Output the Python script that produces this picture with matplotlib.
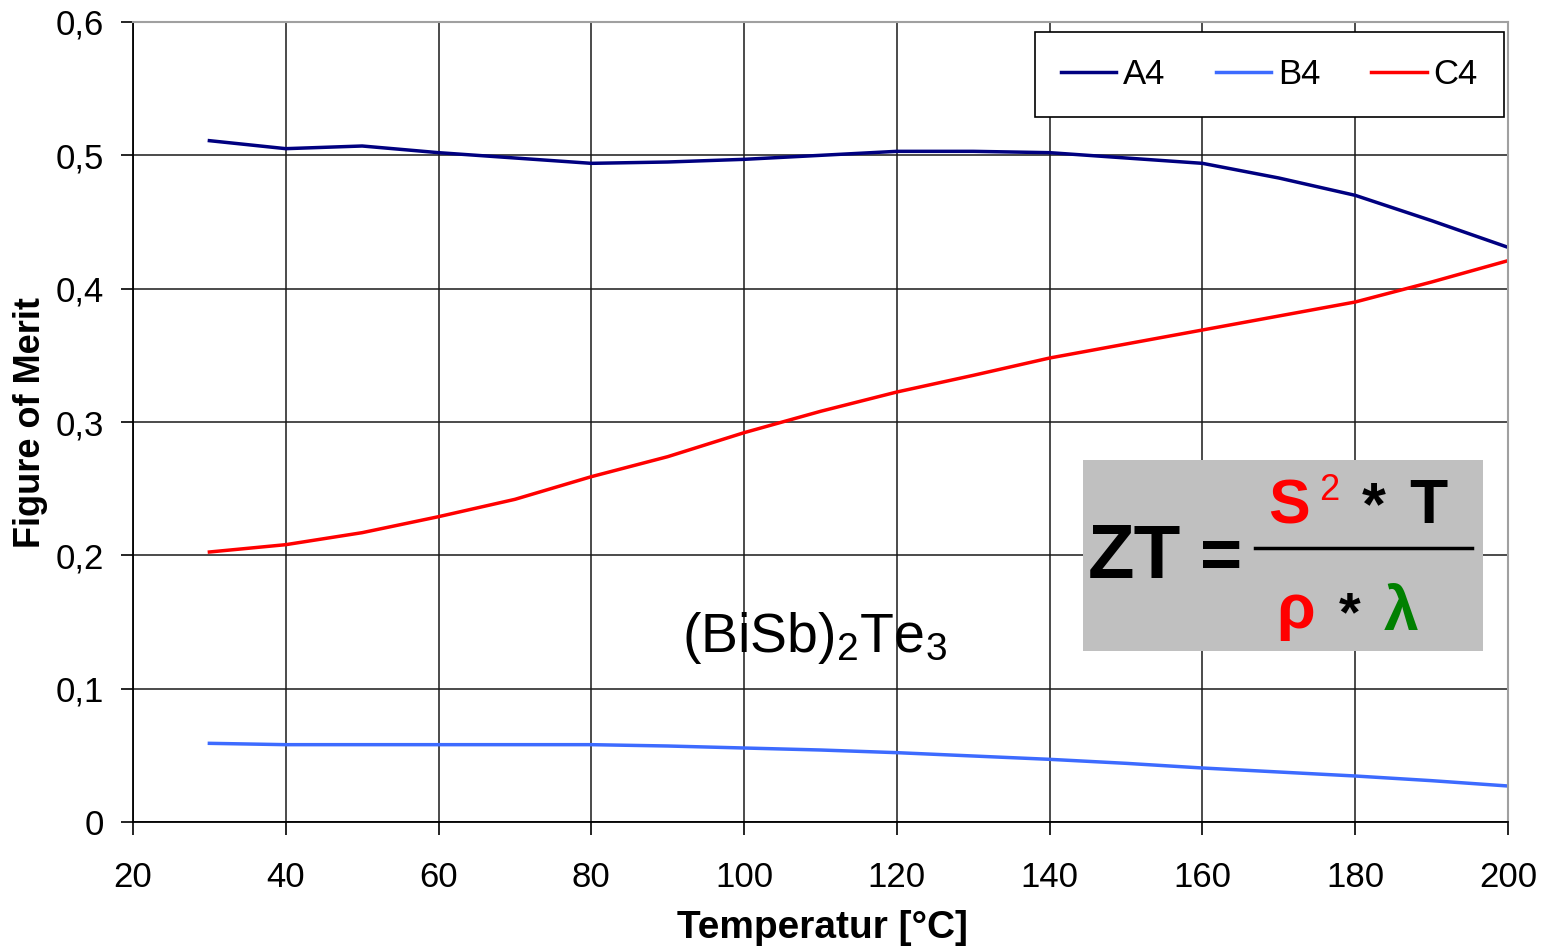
import matplotlib.pyplot as plt
from matplotlib.patches import Rectangle

plt.rcParams['font.family'] = ['Liberation Sans', 'DejaVu Sans']
plt.rcParams['mathtext.fontset'] = 'custom'
plt.rcParams['mathtext.rm'] = 'Liberation Sans'

# temperature in degC
temp = [30, 40, 50, 60, 70, 80, 90, 100, 110, 120, 130, 140, 150, 160, 170, 180, 190, 200]
a4 = [0.511, 0.505, 0.507, 0.502, 0.498, 0.494, 0.495, 0.497, 0.500, 0.503, 0.503, 0.502,
      0.498, 0.494, 0.483, 0.470, 0.451, 0.431]
b4 = [0.059, 0.058, 0.058, 0.058, 0.058, 0.058, 0.057, 0.0555, 0.054, 0.052, 0.0495, 0.047,
      0.044, 0.0405, 0.0375, 0.0345, 0.031, 0.027]
c4 = [0.2025, 0.208, 0.217, 0.229, 0.242, 0.259, 0.274, 0.292, 0.308, 0.3225, 0.335, 0.348,
      0.3585, 0.369, 0.3795, 0.390, 0.405, 0.421]
xticks = [20, 40, 60, 80, 100, 120, 140, 160, 180, 200]
yticks = [0, 0.1, 0.2, 0.3, 0.4, 0.5, 0.6]
ylabels = ['0', '0,1', '0,2', '0,3', '0,4', '0,5', '0,6']

W, H = 1547, 950
fig = plt.figure(figsize=(W / 100, H / 100), dpi=100, facecolor='w')
ax = fig.add_axes([133 / W, 1 - 822 / H, (1508 - 133) / W, (822 - 22) / H])

ax.plot(temp, a4, color='#000080', linewidth=2.5, label='A4')
ax.plot(temp, b4, color='#3D6BFF', linewidth=2.5, label='B4')
ax.plot(temp, c4, color='#FF0000', linewidth=2.5, label='C4')

ax.set_xlim(20, 200)
ax.set_ylim(0, 0.6)
ax.set_xticks(xticks)
ax.set_xticklabels([str(t) for t in xticks])
ax.set_yticks(yticks)
ax.set_yticklabels(ylabels)
ax.tick_params(axis='both', labelsize=25, length=9, width=1.2, direction='out')
ax.tick_params(axis='x', pad=19)
ax.tick_params(axis='y', pad=12)
ax.grid(True, color='#1a1a1a', linewidth=1.1)
ax.set_axisbelow(True)
for s in ['top', 'right']:
    ax.spines[s].set_color('#a0a0a0')
    ax.spines[s].set_linewidth(1.5)
for s in ['left', 'bottom']:
    ax.spines[s].set_linewidth(1.3)

ax.set_xlabel('Temperatur [°C]', fontsize=28, fontweight='bold')
ax.set_ylabel('Figure of Merit', fontsize=26, fontweight='bold')
ax.xaxis.set_label_coords((822 - 133) / 1375, (822 - 910) / 800)
ax.yaxis.set_label_coords((48 - 133) / 1375, (822 - 422) / 800)

leg = ax.legend(loc='upper right', bbox_to_anchor=(0.997, 0.9875), borderaxespad=0,
                ncol=3, fontsize=25, frameon=True, fancybox=False, edgecolor='black',
                handlelength=1.6, handletextpad=0.2, columnspacing=1.45, borderpad=0.75,
                framealpha=1)
leg.get_frame().set_linewidth(1.2)

# formula box
ax.add_patch(Rectangle((0.6909, 0.2138), 0.2909, 0.2388, transform=ax.transAxes,
                       facecolor='#C0C0C0', edgecolor='none', zorder=5))


def ft(px, py, s, **kw):
    fig.text(px / W, 1 - py / H, s, zorder=6, ha='left', va='baseline', **kw)


ft(682, 652, r'$\mathregular{(BiSb)_2Te_3}$', fontsize=40)

ft(1088, 578, 'ZT', fontsize=55, color='black', fontweight='bold')
ft(1200, 578, '=', fontsize=52, color='black', fontweight='bold')
fig.add_artist(plt.Line2D([1255 / W, 1472 / W], [1 - 548 / H, 1 - 548 / H],
                          color='black', linewidth=2.5, zorder=6))
ft(1268, 524, 'S', fontsize=45, color='#FF0000', fontweight='bold')
ft(1319, 500, '2', fontsize=26, color='#FF0000')
ft(1362, 524, '*', fontsize=44, color='black', fontweight='bold')
ft(1409, 523, 'T', fontsize=45, color='black', fontweight='bold')
ft(1276, 628, 'ρ', fontsize=45, color='#FF0000', fontweight='bold')
ft(1339, 630, '*', fontsize=40, color='black', fontweight='bold')
ft(1384, 630, 'λ', fontsize=45, color='#008000', fontweight='bold')

fig.savefig('out.png', dpi=100)
